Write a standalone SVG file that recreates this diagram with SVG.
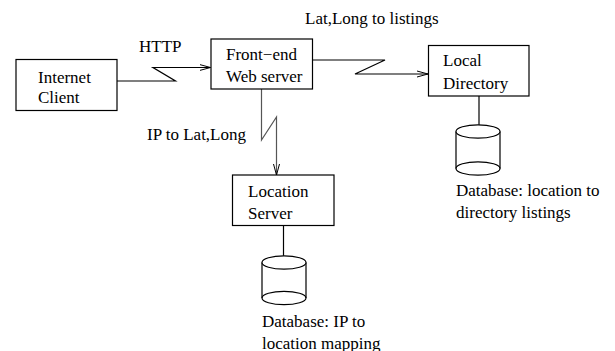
<svg xmlns="http://www.w3.org/2000/svg" width="615" height="351" viewBox="0 0 615 351">
<style>
text{font-family:"Liberation Serif","Times New Roman",serif;font-size:17px;fill:#000}
.box{fill:#fff;stroke:#000;stroke-width:1.2}
.ln{fill:none;stroke:#000;stroke-width:1.2}
.cyl{fill:#fff;stroke:#000;stroke-width:1.2}
</style>
<defs>
<marker id="arr" markerWidth="12" markerHeight="8" refX="11" refY="4" orient="auto" markerUnits="userSpaceOnUse">
<path d="M0,1 L11,4 L0,7" fill="none" stroke="#000" stroke-width="1"/>
</marker>
</defs>
<rect width="615" height="351" fill="#fff"/>
<g id="connectors">
<polyline class="ln" points="117,81 175.5,81 153,67.5 210.5,67.5" marker-end="url(#arr)"/>
<polyline class="ln" points="312.5,60 385,60 355,74 428,74" marker-end="url(#arr)"/>
<polyline class="ln" points="261.5,89 261.5,140 276.5,117 276.5,175" marker-end="url(#arr)" style="stroke:#555"/>
<line class="ln" x1="479" y1="96" x2="479" y2="125"/>
<line class="ln" x1="283.5" y1="225.5" x2="283.5" y2="256"/>
<text x="139" y="52">HTTP</text>
<text x="305" y="23.5">Lat,Long to listings</text>
<text x="147" y="140">IP to Lat,Long</text>
</g>
<g id="internet-client">
<rect class="box" x="16" y="59.5" width="101" height="51"/>
<text x="38" y="83">Internet</text>
<text x="38" y="103">Client</text>
</g>
<g id="front-end">
<rect class="box" x="211" y="39" width="101.5" height="50"/>
<text x="226" y="59.5">Front−end</text>
<text x="226" y="82">Web server</text>
</g>
<g id="local-directory">
<rect class="box" x="428.5" y="45.5" width="100.5" height="50.5"/>
<text x="443" y="66">Local</text>
<text x="443" y="88.5">Directory</text>
</g>
<g id="location-server">
<rect class="box" x="232.5" y="175" width="101.5" height="50.5"/>
<text x="248" y="197">Location</text>
<text x="248" y="218.5">Server</text>
</g>
<g id="db-directory">
<path class="cyl" d="M456,131.5 L456,168.5 A22,6.7 0 0 0 500,168.5 L500,131.5"/>
<ellipse class="cyl" cx="478" cy="131.5" rx="22" ry="6.7" fill="none"/>
<path class="ln" d="M456,168.5 A22,6.7 0 0 1 500,168.5"/>
<text x="456" y="196">Database: location to</text>
<text x="456" y="217.5">directory listings</text>
</g>
<g id="db-location">
<path class="cyl" d="M262,262.5 L262,298 A22,6.7 0 0 0 306,298 L306,262.5"/>
<ellipse class="cyl" cx="284" cy="262.5" rx="22" ry="6.7" fill="none"/>
<path class="ln" d="M262,298 A22,6.7 0 0 1 306,298"/>
<text x="262" y="327">Database: IP to</text>
<text x="262" y="348.5">location mapping</text>
</g>
</svg>
